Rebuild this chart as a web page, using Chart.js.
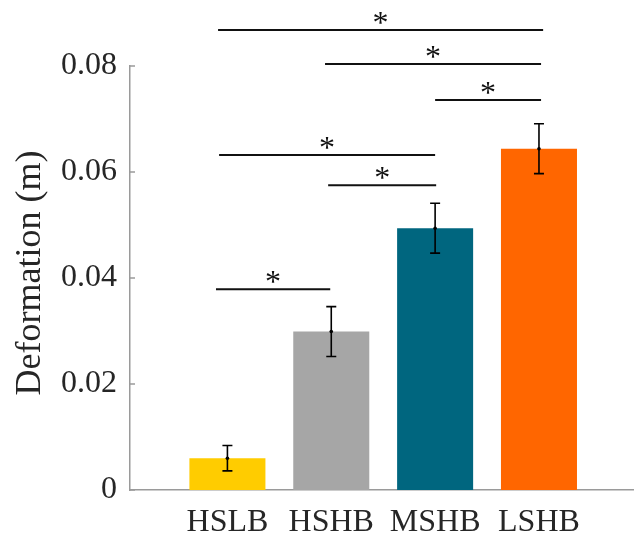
<!DOCTYPE html>
<html>
<head>
<meta charset="utf-8">
<script src="https://cdn.jsdelivr.net/npm/chart.js@4/dist/chart.umd.min.js"></script>
<style>
  html, body { margin: 0; padding: 0; background: #fff; }
  #wrap { width: 634px; height: 535px; }
</style>
</head>
<body>
<div id="wrap"><canvas id="c" width="634" height="535"></canvas></div>
<script>
// Mean deformation per specimen group with its error half-width (m)
const categories = ['HSLB', 'HSHB', 'MSHB', 'LSHB'];
const deformation = [0.0060, 0.0299, 0.0494, 0.0644];
const errorHalf = [0.0024, 0.0047, 0.0047, 0.0047];
const barColors = ['#FFCC00', '#A6A6A6', '#00667F', '#FF6600'];
const yTicks = [0, 0.02, 0.04, 0.06, 0.08];
const yTitle = 'Deformation (m)';

// Significance brackets: span along the group axis and height in metres
const bracketFrom  = [0.91, 1.94, 3.00, 0.92, 1.97, 0.89];
const bracketTo    = [4.04, 4.02, 4.02, 3.00, 3.01, 1.99];
const bracketLevel = [0.0868, 0.0804, 0.0736, 0.0632, 0.0575, 0.0379];
const bracketMark  = ['*', '*', '*', '*', '*', '*'];

const FONT = '"Liberation Serif", "Times New Roman", Times, serif';
const TEXT = '#262626';
const AXIS = '#9a9a9a';

const overlay = {
  id: 'overlay',
  afterDatasetsDraw(chart) {
    const ctx = chart.ctx;
    const x = chart.scales.x, y = chart.scales.y;
    ctx.save();
    // error bars
    ctx.strokeStyle = '#000';
    ctx.fillStyle = '#000';
    ctx.lineWidth = 1.6;
    deformation.forEach((v, i) => {
      const px = x.getPixelForValue(i + 1);
      const top = y.getPixelForValue(v + errorHalf[i]);
      const bot = y.getPixelForValue(v - errorHalf[i]);
      const mid = y.getPixelForValue(v);
      ctx.beginPath();
      ctx.moveTo(px, top); ctx.lineTo(px, bot);
      ctx.moveTo(px - 5, top); ctx.lineTo(px + 5, top);
      ctx.moveTo(px - 5, bot); ctx.lineTo(px + 5, bot);
      ctx.stroke();
      ctx.beginPath();
      ctx.arc(px, mid, 1.8, 0, Math.PI * 2);
      ctx.fill();
    });
    ctx.restore();
  },
  afterDraw(chart) {
    const ctx = chart.ctx;
    const x = chart.scales.x, y = chart.scales.y;
    const area = chart.chartArea;
    ctx.save();
    // inward tick marks on the value axis
    ctx.strokeStyle = AXIS;
    ctx.lineWidth = 1.5;
    yTicks.forEach(v => {
      const py = y.getPixelForValue(v);
      ctx.beginPath();
      ctx.moveTo(area.left, py);
      ctx.lineTo(area.left + 5, py);
      ctx.stroke();
    });
    // value-axis title, rotated
    ctx.save();
    ctx.translate(40, (area.top + area.bottom) / 2 - 5);
    ctx.rotate(-Math.PI / 2);
    ctx.font = '36px ' + FONT;
    ctx.fillStyle = TEXT;
    ctx.textAlign = 'center';
    ctx.textBaseline = 'alphabetic';
    ctx.fillText(yTitle, 0, 0);
    ctx.restore();
    // significance brackets with their markers
    ctx.strokeStyle = '#111';
    ctx.fillStyle = '#111';
    ctx.lineWidth = 2;
    ctx.font = '32px ' + FONT;
    ctx.textAlign = 'center';
    ctx.textBaseline = 'alphabetic';
    bracketLevel.forEach((lvl, i) => {
      const x1 = x.getPixelForValue(bracketFrom[i]);
      const x2 = x.getPixelForValue(bracketTo[i]);
      const py = y.getPixelForValue(lvl);
      ctx.beginPath();
      ctx.moveTo(x1, py);
      ctx.lineTo(x2, py);
      ctx.stroke();
      const m = ctx.measureText(bracketMark[i]);
      const inkMid = (m.actualBoundingBoxAscent - m.actualBoundingBoxDescent) / 2;
      ctx.fillText(bracketMark[i], (x1 + x2) / 2, py - 12 + inkMid);
    });
    ctx.restore();
  }
};

function draw() {
  new Chart(document.getElementById('c'), {
    type: 'bar',
    data: {
      datasets: [{
        data: deformation.map((v, i) => ({ x: i + 1, y: v })),
        backgroundColor: barColors,
        borderWidth: 0,
        categoryPercentage: 1,
        barPercentage: 0.732
      }]
    },
    options: {
      responsive: false,
      animation: false,
      events: [],
      layout: { padding: { top: 66, right: 0, bottom: 0, left: 0 } },
      plugins: { legend: { display: false }, tooltip: { enabled: false } },
      scales: {
        x: {
          type: 'linear',
          offset: false,
          min: 0.062,
          max: 4.915,
          afterBuildTicks: s => { s.ticks = categories.map((_, i) => ({ value: i + 1 })); },
          afterFit: s => { s.height = 45; },
          grid: { display: false, drawTicks: false },
          border: { display: true, color: AXIS, width: 1.5 },
          ticks: {
            autoSkip: false,
            maxRotation: 0,
            padding: 13,
            color: TEXT,
            font: { family: FONT, size: 32 },
            callback: v => categories[Math.round(v) - 1]
          }
        },
        y: {
          min: 0,
          max: 0.08,
          afterBuildTicks: s => { s.ticks = yTicks.map(v => ({ value: v })); },
          afterFit: s => { s.width = 130; },
          grid: { display: false, drawTicks: false },
          border: { display: true, color: AXIS, width: 1.5 },
          ticks: {
            padding: 13,
            color: TEXT,
            font: { family: FONT, size: 32 },
            callback: v => (v === 0 ? '0' : v.toFixed(2))
          }
        }
      }
    },
    plugins: [overlay]
  });
}

if (document.fonts && document.fonts.load) {
  Promise.all([
    document.fonts.load('32px "Liberation Serif"'),
    document.fonts.load('36px "Liberation Serif"')
  ]).then(draw, draw);
} else {
  draw();
}
</script>
</body>
</html>
